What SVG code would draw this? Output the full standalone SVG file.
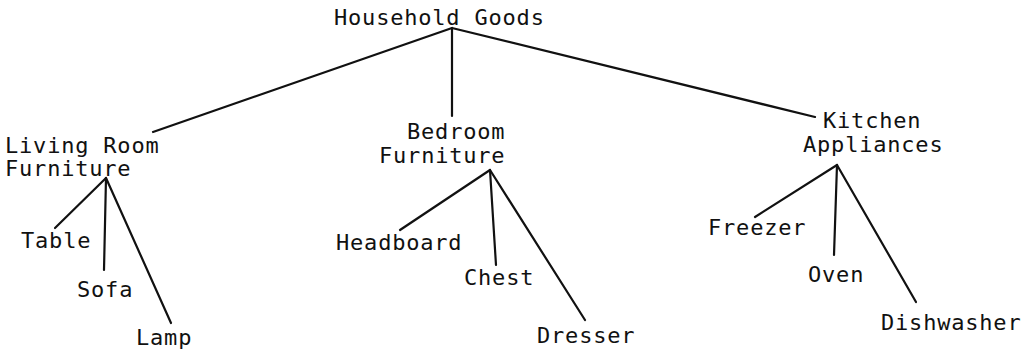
<svg xmlns="http://www.w3.org/2000/svg" width="1030" height="350" viewBox="0 0 1030 350">
<style>
text{font-family:"DejaVu Sans Mono","Liberation Mono",monospace;font-size:22px;letter-spacing:0.8px;fill:#111}
.c line{stroke:#111;stroke-width:2.2;stroke-linecap:round}
</style>
<rect width="1030" height="350" fill="#fff"/>
<g class="c" id="connectors">
<line x1="452" y1="28" x2="153" y2="132"/>
<line x1="452" y1="28" x2="452" y2="116"/>
<line x1="452" y1="28" x2="815" y2="117"/>
<line x1="106" y1="178" x2="55" y2="228"/>
<line x1="106" y1="178" x2="104" y2="270"/>
<line x1="106" y1="178" x2="171" y2="323"/>
<line x1="490" y1="170" x2="400" y2="230"/>
<line x1="490" y1="170" x2="496" y2="265"/>
<line x1="490" y1="170" x2="585" y2="320"/>
<line x1="837" y1="165" x2="755" y2="217"/>
<line x1="837" y1="165" x2="834" y2="255"/>
<line x1="837" y1="165" x2="916" y2="302"/>
</g>
<g id="root"><text x="334" y="25">Household Goods</text></g>
<g id="living"><text x="5" y="153">Living Room</text><text x="5" y="176">Furniture</text></g>
<g id="bedroom"><text x="407" y="139">Bedroom</text><text x="379" y="163">Furniture</text></g>
<g id="kitchen"><text x="823" y="128">Kitchen</text><text x="803" y="152">Appliances</text></g>
<g id="table"><text x="21" y="248">Table</text></g>
<g id="sofa"><text x="77" y="297">Sofa</text></g>
<g id="lamp"><text x="136" y="345">Lamp</text></g>
<g id="headboard"><text x="336" y="250">Headboard</text></g>
<g id="chest"><text x="464" y="285">Chest</text></g>
<g id="dresser"><text x="537" y="343">Dresser</text></g>
<g id="freezer"><text x="708" y="235">Freezer</text></g>
<g id="oven"><text x="808" y="282">Oven</text></g>
<g id="dishwasher"><text x="881" y="330">Dishwasher</text></g>
</svg>
